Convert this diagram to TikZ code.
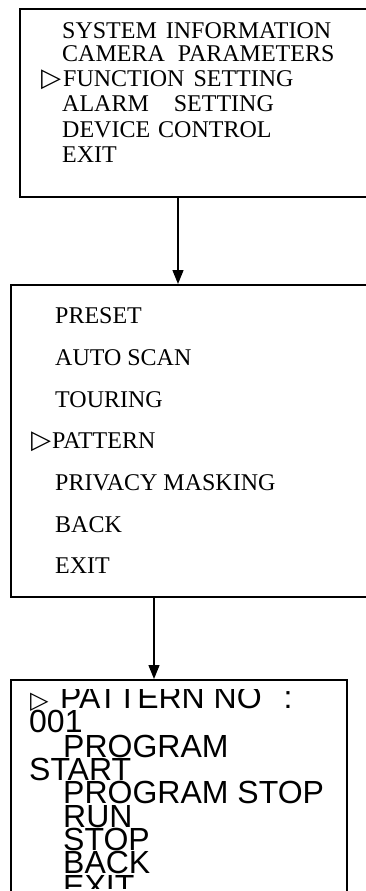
\documentclass[tikz,border=0pt]{standalone}
\usepackage{fontspec}
\setmainfont{Liberation Serif}
\newfontfamily\arialfont{Liberation Sans}
\newfontfamily\symfont{DejaVu Sans}
\usetikzlibrary{arrows.meta}
\tikzset{
	menubox/.style={draw, line width=1.6pt, inner sep=0pt, anchor=north west},
	item/.style={anchor=base west, inner sep=0pt, font=\fontsize{24}{24}\selectfont},
	sitem/.style={anchor=base west, inner sep=0pt, font=\arialfont\fontsize{32}{32}\selectfont},
	tri/.style={anchor=base west, inner sep=0pt, font=\symfont\fontsize{26}{26}\selectfont},
	down/.style={-{Triangle[length=14pt,width=11pt]}, line width=1.4pt}
}
\begin{document}
\begin{tikzpicture}[x=1pt, y=-1pt]
	\useasboundingbox (0,0) rectangle (365,891);
	\node[menubox, minimum width=380pt, minimum height=188pt] (sysmenu) at (19,8) {}; %メインメニュー
	\node[menubox, minimum width=400pt, minimum height=312pt] (funcmenu) at (10,284) {}; %機能設定
	\node[menubox, minimum width=336pt, minimum height=260pt] (patmenu) at (10,679) {}; %パターン(下は切れている)
	\coordinate (a1) at (178,0);
	\coordinate (a2) at (154,0);
	\draw[down] (sysmenu.south -| a1) -- (funcmenu.north -| a1);
	\draw[down] (funcmenu.south -| a2) -- (patmenu.north -| a2);
%	メインメニューの項目
	\node[item] (sys) at (62,38) {SYSTEM\hspace{9pt}INFORMATION};
	\node[item] (cam) at (62,62) {CAMERA\hspace{13pt}PARAMETERS};
	\node[tri] (t1) at (41,86) {▷};
	\node[item] (fun) at (63,86) {FUNCTION\hspace{9pt}SETTING};
	\node[item] (ala) at (62,111) {ALARM\hspace{25pt}SETTING};
	\node[item] (dev) at (62,137) {DEVICE\hspace{8pt}CONTROL};
	\node[item] (ex1) at (62,162) {EXIT};
%	機能設定の項目
	\node[item] (pre) at (55,323) {PRESET};
	\node[item] (aut) at (55,365) {AUTO SCAN};
	\node[item] (tou) at (55,407) {TOURING};
	\node[tri] (t2) at (31,448) {▷};
	\node[item] (pat) at (52,448) {PATTERN};
	\node[item] (pri) at (55,490) {PRIVACY MASKING};
	\node[item] (bk2) at (55,532) {BACK};
	\node[item] (ex2) at (55,573) {EXIT};
%	パターンの項目(上と下が切れている)
	\node[tri, font=\symfont\fontsize{24}{24}\selectfont] (t3) at (30,708) {▷};
	\begin{scope}
		\clip (0,689) rectangle (365,888);
		\node[sitem] (pno) at (60,708) {PATTERN NO\hspace{22pt}:};
		\node[sitem] (num) at (29,732) {001};
		\node[sitem] (pg1) at (63,757) {PROGRAM};
		\node[sitem] (sta) at (29,780) {START};
		\node[sitem] (pg2) at (63,803) {PROGRAM STOP};
		\node[sitem] (run) at (63,827) {RUN};
		\node[sitem] (stp) at (63,850) {STOP};
		\node[sitem] (bk3) at (63,873) {BACK};
		\node[sitem] (ex3) at (63,897) {EXIT};
	\end{scope}
\end{tikzpicture}
\end{document}
